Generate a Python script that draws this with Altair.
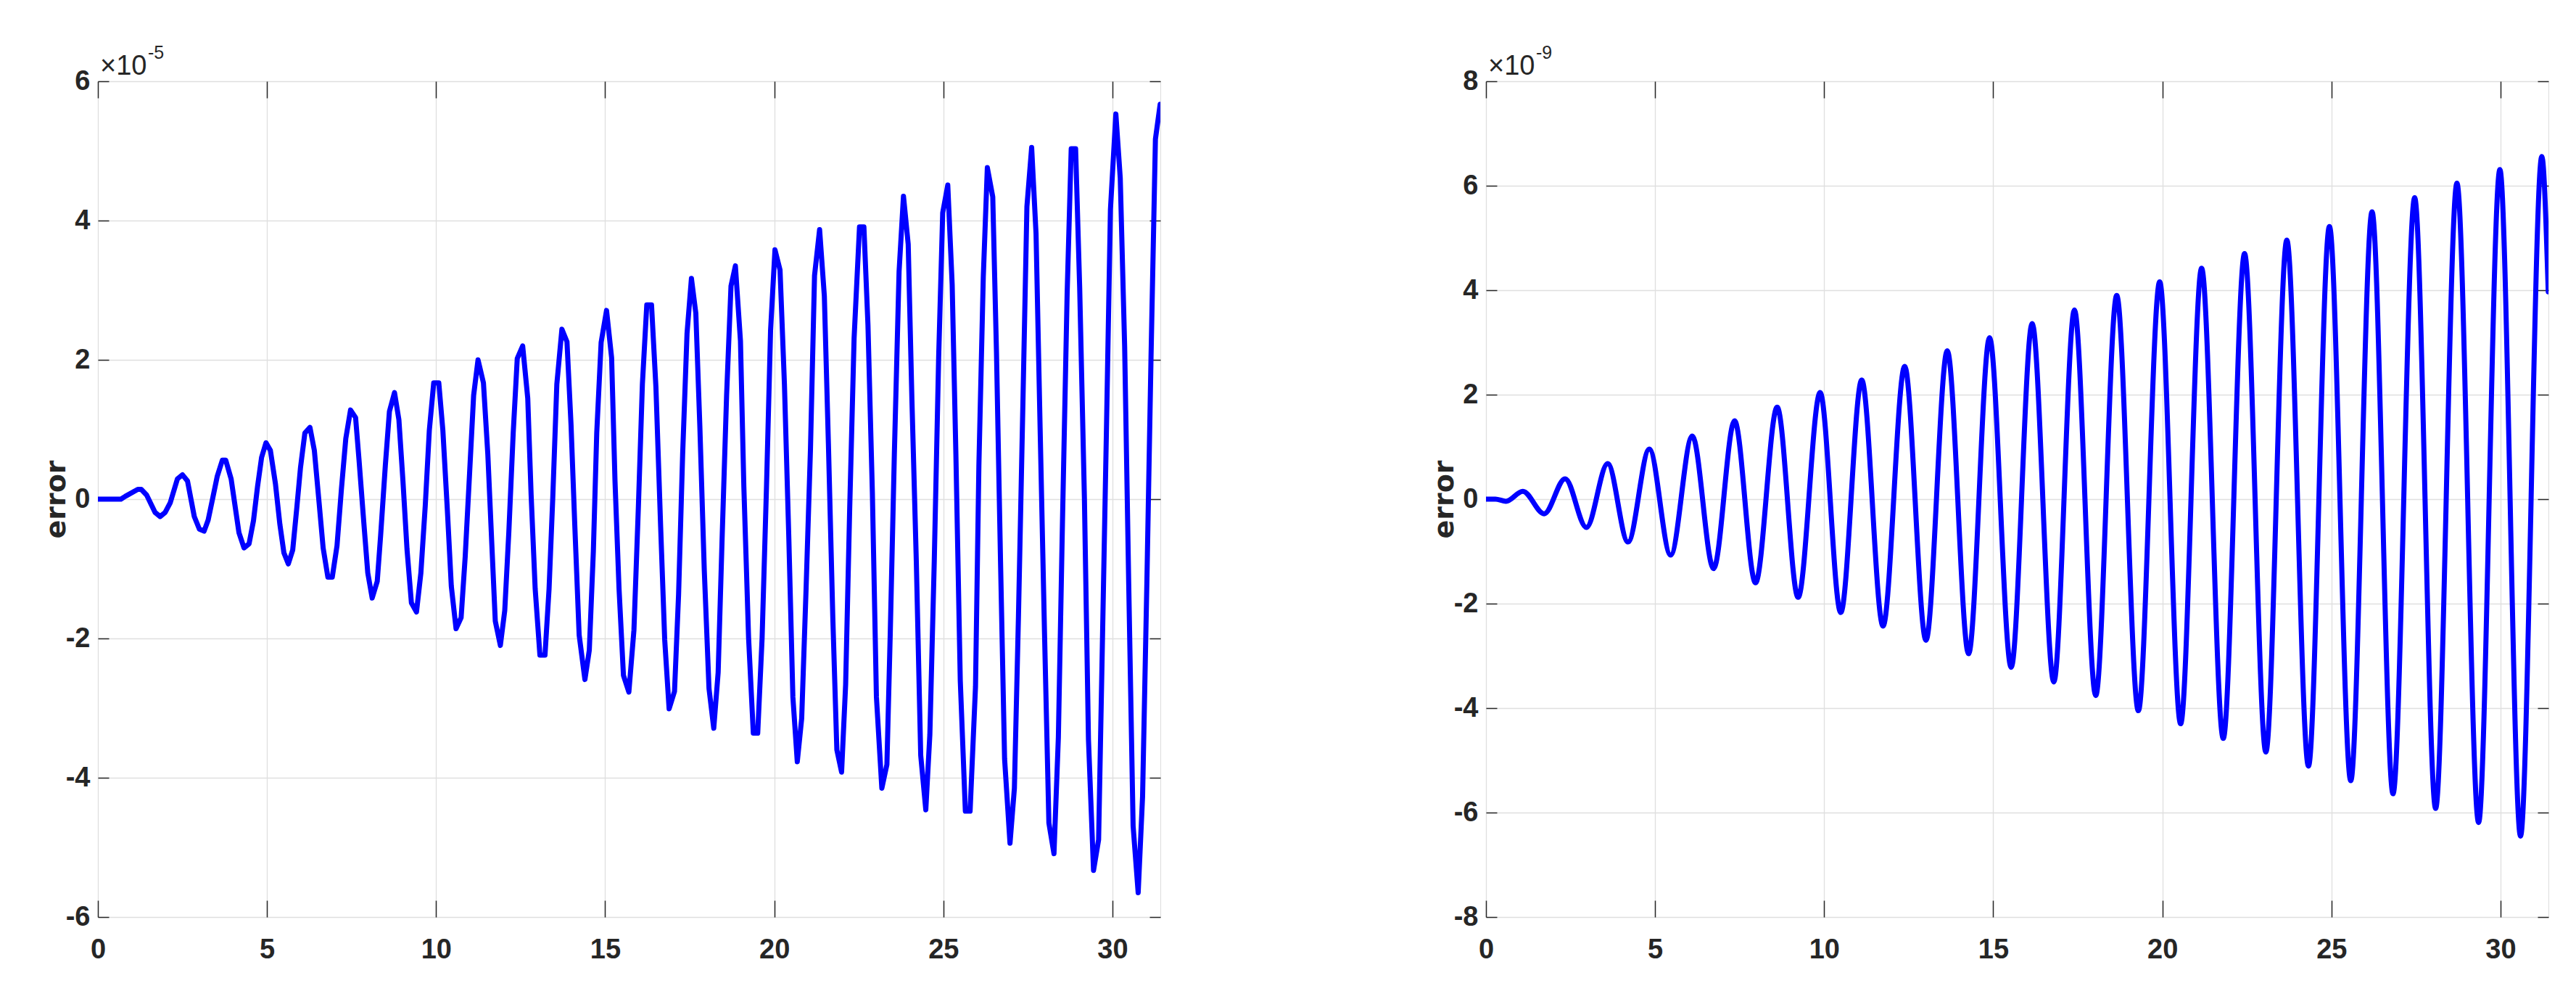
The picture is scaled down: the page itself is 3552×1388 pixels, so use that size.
import altair as alt
import pandas as pd

# ---------------- data ----------------
X_MAX = 31.4159
X_TICKS = [0, 5, 10, 15, 20, 25, 30]
Y1_TICKS = [-6, -4, -2, 0, 2, 4, 6]
Y2_TICKS = [-8, -6, -4, -2, 0, 2, 4, 6, 8]
Y_TITLE = "error"
MULT = "×10"
EXP1 = "-5"
EXP2 = "-9"

# left panel: error (units of 1e-5)
T1 = [0.00, 0.68, 0.81, 1.18, 1.28, 1.44, 1.69, 1.84, 1.99, 2.14, 2.35, 2.50, 2.65, 2.85,
      3.00, 3.14, 3.26, 3.38, 3.53, 3.68, 3.78, 3.94, 4.17, 4.32, 4.47, 4.60, 4.72, 4.84,
      4.97, 5.10, 5.25, 5.38, 5.50, 5.63, 5.76, 5.88, 5.99, 6.12, 6.27, 6.40, 6.54, 6.66,
      6.80, 6.93, 7.07, 7.20, 7.33, 7.47, 7.62, 7.72, 7.86, 7.98, 8.11, 8.26, 8.36, 8.50,
      8.62, 8.77, 8.90, 9.02, 9.14, 9.27, 9.42, 9.55, 9.68, 9.80, 9.93, 10.08, 10.20, 10.33,
      10.45, 10.59, 10.74, 10.86, 10.99, 11.11, 11.24, 11.40, 11.53, 11.65, 11.75, 11.90,
      12.03, 12.15, 12.28, 12.40, 12.56, 12.71, 12.81, 12.93, 13.07, 13.22, 13.34, 13.45,
      13.57, 13.72, 13.87, 13.99, 14.10, 14.23, 14.40, 14.53, 14.65, 14.75, 14.88, 15.04,
      15.19, 15.29, 15.41, 15.54, 15.70, 15.85, 15.98, 16.10, 16.23, 16.37, 16.50, 16.64,
      16.76, 16.89, 17.05, 17.17, 17.29, 17.42, 17.55, 17.68, 17.80, 17.93, 18.07, 18.21,
      18.34, 18.46, 18.59, 18.72, 18.85, 19.00, 19.10, 19.24, 19.38, 19.51, 19.64, 19.77,
      19.89, 20.02, 20.17, 20.30, 20.43, 20.55, 20.68, 20.81, 20.94, 21.07, 21.19, 21.34,
      21.48, 21.60, 21.73, 21.85, 21.99, 22.11, 22.23, 22.36, 22.52, 22.65, 22.77, 22.90,
      23.02, 23.18, 23.33, 23.43, 23.55, 23.69, 23.82, 23.96, 24.07, 24.20, 24.33, 24.48,
      24.60, 24.73, 24.86, 24.98, 25.13, 25.26, 25.37, 25.50, 25.65, 25.79, 25.95, 26.05,
      26.18, 26.30, 26.46, 26.57, 26.69, 26.81, 26.97, 27.10, 27.22, 27.35, 27.47, 27.61,
      27.74, 27.86, 27.99, 28.12, 28.27, 28.40, 28.52, 28.66, 28.78, 28.91, 29.03, 29.17,
      29.29, 29.44, 29.59, 29.69, 29.82, 29.94, 30.10, 30.23, 30.36, 30.48, 30.61, 30.76,
      30.89, 31.02, 31.14, 31.27, 31.41]
E1 = [0.00, 0.00, 0.04, 0.14, 0.14, 0.06, -0.19, -0.25, -0.19, -0.05, 0.29, 0.35, 0.26, -0.25,
      -0.43, -0.46, -0.30, -0.02, 0.33, 0.56, 0.56, 0.29, -0.48, -0.70, -0.64, -0.31, 0.18, 0.60,
      0.81, 0.70, 0.22, -0.36, -0.77, -0.93, -0.73, -0.13, 0.45, 0.95, 1.03, 0.70, -0.05, -0.70,
      -1.12, -1.12, -0.67, 0.14, 0.87, 1.28, 1.17, 0.57, -0.32, -1.06, -1.42, -1.18, -0.52, 0.49,
      1.26, 1.53, 1.14, 0.26, -0.72, -1.49, -1.62, -1.06, -0.09, 0.99, 1.67, 1.67, 0.99, -0.13,
      -1.25, -1.86, -1.70, -0.83, 0.37, 1.49, 2.00, 1.67, 0.64, -0.67, -1.75, -2.10,
      -1.60, -0.48, 0.95, 2.02, 2.20, 1.45, 0.06, -1.29, -2.24, -2.24, -1.29, 0.02,
      1.65, 2.44, 2.26, 1.07, -0.36, -1.95, -2.59, -2.17, -0.75, 0.95, 2.25, 2.71,
      2.03, 0.26, -1.29, -2.53, -2.77, -1.88, -0.13, 1.65, 2.79, 2.79, 1.61, -0.40,
      -2.02, -3.01, -2.76, -1.37, 0.64, 2.38, 3.17, 2.67, 1.03, -1.02, -2.72, -3.29,
      -2.49, -0.52, 1.49, 3.06, 3.35, 2.27, 0.18, -1.99, -3.36, -3.36, -1.99, 0.18,
      2.42, 3.58, 3.29, 1.65, -0.56, -2.84, -3.77, -3.15, -1.29, 0.72, 3.21, 3.87,
      2.92, 0.80, -1.69, -3.60, -3.92, -2.66, -0.13, 2.31, 3.91, 3.91, 2.50, 0.10,
      -2.84, -4.15, -3.81, -1.91, 0.64, 3.27, 4.35, 3.66, 1.42, -0.90, -3.68, -4.46,
      -3.38, -0.90, 2.03, 4.11, 4.51, 3.08, 0.64, -2.61, -4.48, -4.48, -2.69, 0.49,
      3.19, 4.76, 4.34, 2.11, -0.90, -3.73, -4.94, -4.15, -1.68, 1.34, 4.20, 5.05,
      3.81, 1.03, -1.91, -4.65, -5.09, -3.42, -0.36, 2.96, 5.03, 5.03, 3.04, 0.02,
      -3.45, -5.33, -4.89, -2.37, 0.95, 4.16, 5.53, 4.61, 2.19, -1.21, -4.69, -5.65,
      -4.27, -1.13, 2.04, 5.17, 5.67]

# right panel: error (units of 1e-9), turning points of the smooth curve
T2 = [0.00, 0.28, 0.59, 1.09, 1.72, 2.34, 2.97, 3.60, 4.20, 4.83, 5.46, 6.10, 6.73, 7.35,
      7.97, 8.61, 9.23, 9.88, 10.49, 11.11, 11.74, 12.38, 13.01, 13.64, 14.27, 14.89,
      15.53, 16.15, 16.79, 17.40, 18.03, 18.65, 19.29, 19.92, 20.54, 21.16, 21.80, 22.43,
      23.06, 23.68, 24.32, 24.94, 25.57, 26.20, 26.82, 27.46, 28.08, 28.71, 29.35, 29.98,
      30.59, 31.22, 31.41]
E2 = [0.00, 0.00, -0.04, 0.15, -0.28, 0.39, -0.54, 0.68, -0.82, 0.96, -1.07, 1.21, -1.33, 1.50,
      -1.60, 1.76, -1.88, 2.04, -2.17, 2.28, -2.43, 2.54, -2.70, 2.84, -2.96, 3.09,
      -3.22, 3.36, -3.50, 3.62, -3.76, 3.90, -4.05, 4.16, -4.30, 4.42, -4.58, 4.70,
      -4.84, 4.96, -5.11, 5.22, -5.39, 5.50, -5.64, 5.77, -5.92, 6.05, -6.19, 6.31,
      -6.45, 6.56, 3.97]

# ---------------- style ----------------
W, H = 1465, 1152
BLUE = "#0000ff"
DARK = "#262626"
GRID = "#dfdfdf"
TICK_FONT = "Liberation Sans"
TITLE_FONT = "DejaVu Sans"
XT, YT = 23, 15  # inward tick lengths


def panel(t, e, ymax, yticks, exp, interp):
    df = pd.DataFrame({"t": t, "e": e})
    xs = alt.Scale(domain=[0, X_MAX], nice=False, zero=False)
    ys = alt.Scale(domain=[-ymax, ymax], nice=False, zero=False)
    lab = dict(labelFont=TICK_FONT, labelFontSize=38, labelFontWeight="bold",
               labelColor=DARK, labelFlush=False, labelOverlap=False,
               labelExpr="datum.value + ''", tickColor=DARK, tickWidth=1.5,
               domain=False, gridColor=GRID, gridWidth=1.3, gridOpacity=1)
    main = alt.Chart(df).mark_line(
        color=BLUE, strokeWidth=7, interpolate=interp, clip=True,
        strokeJoin="round", strokeCap="round"
    ).encode(
        x=alt.X("t:Q", scale=xs, axis=alt.Axis(
            orient="bottom", values=X_TICKS, tickSize=XT, offset=-XT,
            labelPadding=26, grid=True, title=None, **lab)),
        y=alt.Y("e:Q", scale=ys, axis=alt.Axis(
            orient="left", values=yticks, tickSize=YT, offset=-YT,
            labelPadding=11, grid=True, title=Y_TITLE, titleFont=TITLE_FONT,
            titleFontSize=38, titleFontWeight="bold", titleColor=DARK,
            titleAngle=270, titleAlign="center", titleBaseline="middle",
            titleX=-72, titleY=H / 2, **lab)),
    )
    ghost = alt.Chart(df).mark_line(opacity=0).encode(
        x=alt.X("t:Q", scale=xs, axis=alt.Axis(
            orient="top", values=X_TICKS, tickSize=XT, offset=-XT, labels=False,
            domain=False, grid=False, title=None, tickColor=DARK, tickWidth=1.5)),
        y=alt.Y("e:Q", scale=ys, axis=alt.Axis(
            orient="right", values=yticks, tickSize=YT, offset=-YT, labels=False,
            domain=False, grid=False, title=None, tickColor=DARK, tickWidth=1.5)),
    )
    mult = alt.Chart(pd.DataFrame({"s": [MULT]})).mark_text(
        font=TICK_FONT, fontSize=38, color=DARK, align="left", baseline="alphabetic"
    ).encode(x=alt.value(3), y=alt.value(-9), text="s:N")
    expo = alt.Chart(pd.DataFrame({"s": [exp]})).mark_text(
        font=TICK_FONT, fontSize=25, color=DARK, align="left", baseline="alphabetic"
    ).encode(x=alt.value(69), y=alt.value(-31), text="s:N")
    return alt.layer(main, ghost, mult, expo).resolve_axis(
        x="independent", y="independent").properties(width=W, height=H)


left = panel(T1, E1, 6, Y1_TICKS, EXP1, "linear")
right = panel(T2, E2, 8, Y2_TICKS, EXP2, "monotone")

chart = alt.hconcat(left, right, spacing=370).properties(
    padding={"left": 50, "top": 52, "right": 0, "bottom": 0}
).configure_view(stroke=DARK, strokeWidth=1.5).configure(background="white")

chart.save("out.html", embed_options={"renderer": "svg", "actions": False})
